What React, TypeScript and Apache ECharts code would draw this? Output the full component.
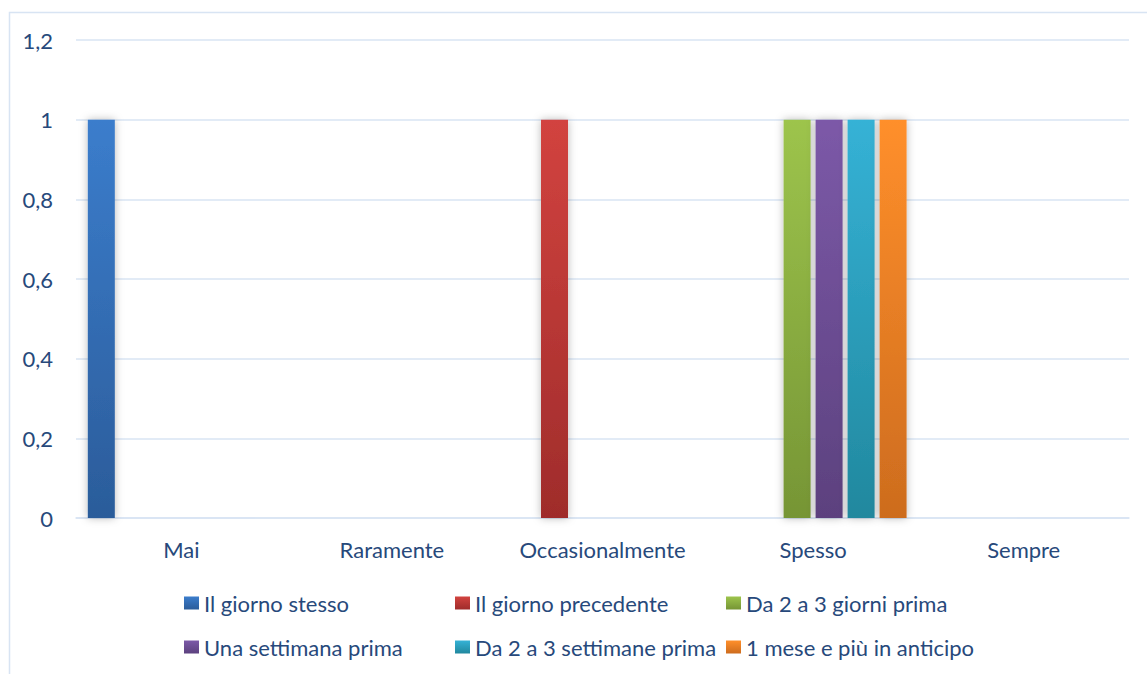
import React, { useEffect, useRef } from "react";
import * as echarts from "echarts";

const categories = ["Mai", "Raramente", "Occasionalmente", "Spesso", "Sempre"];
const seriesNames = [
  "Il giorno stesso",
  "Il giorno precedente",
  "Da 2 a 3 giorni prima",
  "Una settimana prima",
  "Da 2 a 3 settimane prima",
  "1 mese e più in anticipo",
];
const ilGiornoStesso = [1, 0, 0, 0, 0];
const ilGiornoPrecedente = [0, 0, 1, 0, 0];
const da2a3Giorni = [0, 0, 0, 1, 0];
const unaSettimana = [0, 0, 0, 1, 0];
const da2a3Settimane = [0, 0, 0, 1, 0];
const unMese = [0, 0, 0, 1, 0];
const seriesValues = [ilGiornoStesso, ilGiornoPrecedente, da2a3Giorni, unaSettimana, da2a3Settimane, unMese];
const yTicks = [0, 0.2, 0.4, 0.6, 0.8, 1, 1.2];

const colorStops: [string, string][] = [
  ["#3b7dcc", "#2b5c9a"],
  ["#d2433f", "#9f2c2b"],
  ["#9dc44c", "#769535"],
  ["#7c59a8", "#5c417e"],
  ["#35b2d6", "#21889e"],
  ["#ff8f2b", "#cd6c1e"],
];

const TEXT = "#27497b";
const FONT = "Lato";
const FS = 22;

export default function App() {
  const ref = useRef<HTMLDivElement>(null);
  useEffect(() => {
    const chart = echarts.init(ref.current!, null, { renderer: "svg" });
    const grad = (i: number) =>
      new echarts.graphic.LinearGradient(0, 0, 0, 1, [
        { offset: 0, color: colorStops[i][0] },
        { offset: 1, color: colorStops[i][1] },
      ]);
    const legendX = [184, 455, 726];
    const legendY = [592, 636];
    const legends = seriesNames.map((name, i) => ({
      show: true,
      left: legendX[i % 3],
      top: legendY[Math.floor(i / 3)],
      orient: "horizontal",
      padding: 0,
      itemWidth: 15,
      itemHeight: 13,
      itemGap: 0,
      icon: "rect",
      selectedMode: false,
      textStyle: { color: TEXT, fontFamily: FONT, fontSize: FS },
      data: [name],
    }));
    chart.setOption({
      animation: false,
      textStyle: { fontFamily: FONT },
      graphic: [
        {
          type: "rect",
          left: 7,
          top: 10,
          shape: { x: 0, y: 0, width: 1200, height: 700 },
          style: { fill: "none", stroke: "#d8e4f3", lineWidth: 1.5 },
          silent: true,
          z: -10,
        },
      ],
      grid: { left: 76, right: 18, top: 40, bottom: 156 },
      legend: legends,
      xAxis: {
        type: "category",
        data: categories,
        axisLine: { show: true, lineStyle: { color: "#d8e4f3", width: 1.5 } },
        axisTick: { show: false },
        axisLabel: { color: TEXT, fontFamily: FONT, fontSize: FS, margin: 20, interval: 0, hideOverlap: false },
      },
      yAxis: {
        type: "value",
        min: 0,
        max: 1.2,
        interval: 0.2,
        axisLine: { show: false },
        axisTick: { show: false },
        splitLine: { lineStyle: { color: "#d8e4f3", width: 1.5 } },
        axisLabel: {
          color: TEXT,
          fontFamily: FONT,
          fontSize: FS,
          margin: 23,
          formatter: (v: number) => {
            const t = yTicks.find((x) => Math.abs(x - v) < 1e-9);
            return String(t !== undefined ? t : v).replace(".", ",");
          },
        },
      },
      series: seriesNames.map((name, i) => ({
        name,
        type: "bar",
        data: seriesValues[i],
        barWidth: 27,
        barGap: "18.5%",
        itemStyle: {
          color: grad(i),
          shadowBlur: 8,
          shadowColor: "rgba(0,0,0,0.28)",
        },
      })),
    });
    return () => chart.dispose();
  }, []);
  return (
    <div
      ref={ref}
      style={{ position: "fixed", left: 0, top: 0, width: 1147, height: 674, background: "#fff" }}
    />
  );
}
